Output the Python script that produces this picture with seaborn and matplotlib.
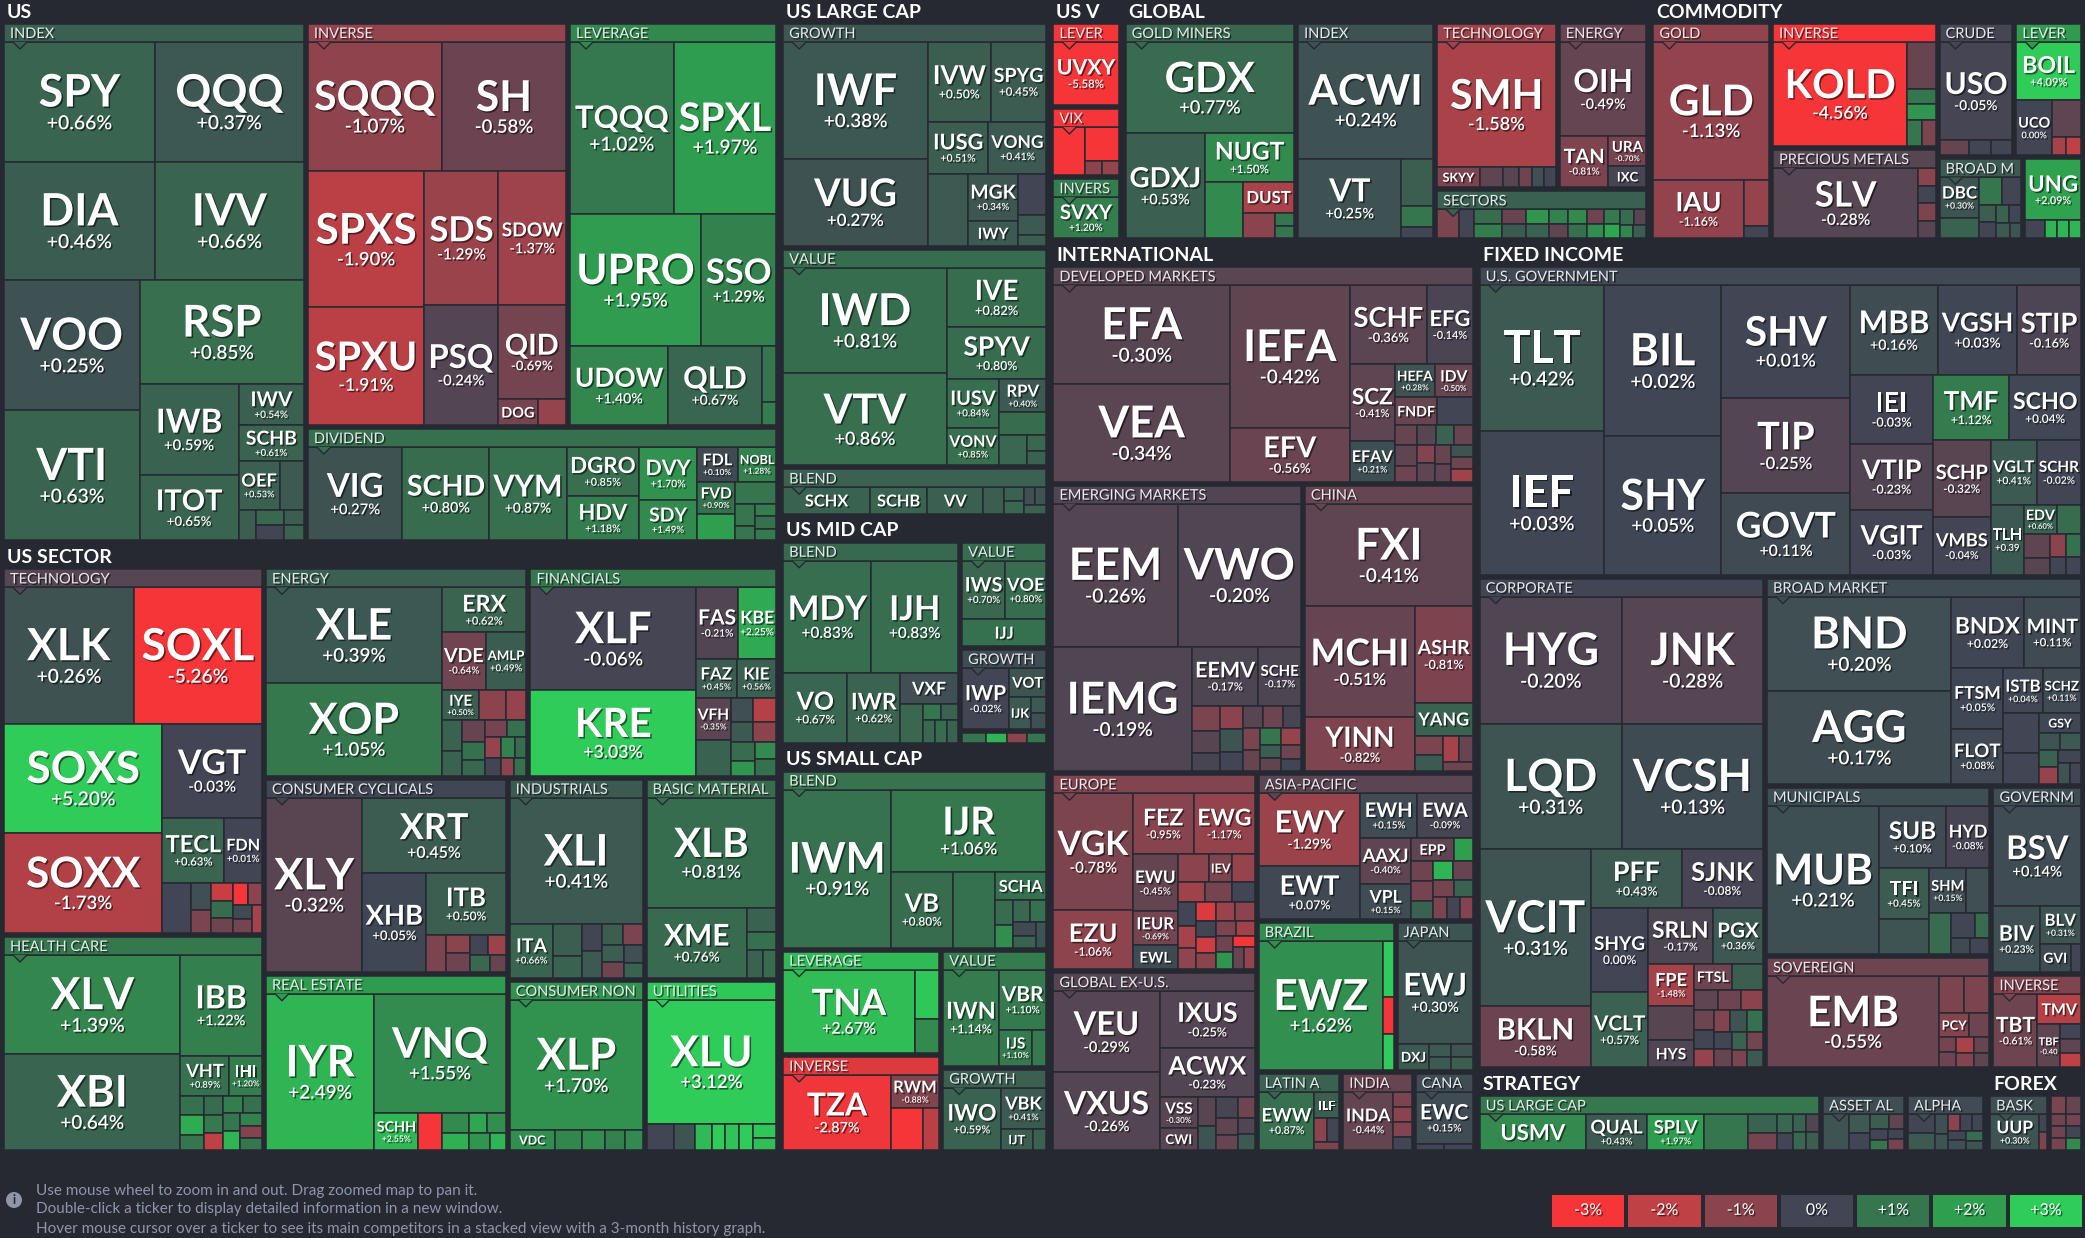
import numpy as np
import matplotlib
matplotlib.use("Agg")
import matplotlib.pyplot as plt
import matplotlib.patheffects as pe
from matplotlib.patches import Rectangle, Polygon, Circle
from matplotlib.colors import ListedColormap, to_rgb
import seaborn as sns

# colour scale of the map
SCALE_STEPS = [-3, -2, -1, 0, 1, 2, 3]
SCALE_COLORS = ["#f63538", "#bf4045", "#8b444e", "#414554", "#35764e", "#2f9e4f", "#30cc5a"]
SCALE_LABELS = ["-3%", "-2%", "-1%", "0%", "+1%", "+2%", "+3%"]

# (ticker, size, change %) ; "" = unlabeled small fund
us_index = [("SPY", 100, 0.66), ("QQQ", 99, 0.37), ("DIA", 99, 0.46), ("IVV", 98, 0.66), ("VOO", 98, 0.25),
            ("VTI", 98, 0.63), ("RSP", 95, 0.85), ("IWB", 50, 0.59), ("ITOT", 36, 0.65), ("IWV", 15, 0.54),
            ("SCHB", 13, 0.61), ("OEF", 11, 0.53), ("", 6.5, 0.4), ("", 3, 0.5), ("", 2.4, 0.7), ("", 2.4, 0.0),
            ("", 1.7, 0.5), ("", 1.7, 0.6)]
us_inverse = [("SQQQ", 96, -1.07), ("SH", 89, -0.58), ("SPXS", 88, -1.90), ("SPXU", 76, -1.91), ("SDS", 55, -1.29),
              ("SDOW", 50, -1.37), ("PSQ", 49, -0.24), ("QID", 36, -0.69), ("DOG", 5.7, -0.7), ("", 4, -1.2)]
us_leverage = [("TQQQ", 99, 1.02), ("SPXL", 98, 1.97), ("UPRO", 96, 1.95), ("SSO", 55, 1.29), ("UDOW", 43, 1.40),
               ("QLD", 41, 0.67), ("", 4.5, 1.0), ("", 1.8, 1.2)]
us_dividend = [("VIG", 49, 0.27), ("SCHD", 45, 0.80), ("VYM", 40, 0.87), ("DGRO", 19.6, 0.85), ("HDV", 18, 1.18),
               ("DVY", 17, 1.70), ("SDY", 13, 1.49), ("FDL", 7.8, 0.1), ("NOBL", 7.4, 1.28), ("FVD", 6.8, 0.9),
               ("", 5.7, 2.0), ("", 5, 1.0), ("", 2.4, 1.0), ("", 1.5, 1.0), ("", 1.5, 1.2), ("", 1.5, 0.9),
               ("", 1.4, 1.1)]

sec_tech = [("XLK", 98, 0.26), ("SOXL", 97, -5.26), ("SOXS", 96, 5.20), ("SOXX", 88, -1.73), ("VGT", 52, -0.03),
            ("TECL", 22.5, 0.63), ("FDN", 13.7, 0.01), ("", 8, 0.0), ("", 3, 0.2), ("", 2.5, -0.8), ("", 2.2, -2.2),
            ("", 2, 0.8), ("", 1.8, -0.6), ("", 1.8, -3.5), ("", 1.7, -1.0), ("", 1.6, 0.1), ("", 1.5, -0.7),
            ("", 1.5, -1.5)]
sec_health = [("XLV", 97, 1.39), ("XBI", 94, 0.64), ("IBB", 45.5, 1.22), ("VHT", 11, 0.89), ("IHI", 7.3, 1.2),
              ("", 2.5, 0.9), ("", 2.5, 2.3), ("", 2, 1.0), ("", 2, 0.8), ("", 2, 1.1), ("", 1.8, -2.0),
              ("", 1.8, 1.2), ("", 1.8, 0.9), ("", 1.7, 1.0), ("", 1.7, 2.5), ("", 1.6, 1.3), ("", 1.5, -0.9),
              ("", 1.5, 1.0)]
sec_energy = [("XLE", 93, 0.39), ("XOP", 91, 1.05), ("ERX", 21, 0.62), ("VDE", 14, -0.64), ("AMLP", 13, 0.49),
              ("IYE", 6.4, 0.5), ("", 4.5, -1.0), ("", 3.5, -1.2), ("", 3.5, 0.6), ("", 2.8, 0.6), ("", 2.8, -0.5),
              ("", 2.3, 0.9), ("", 2, 0.7), ("", 2, -0.7), ("", 1.8, 0.9), ("", 1.8, -1.2), ("", 1.6, 0.0),
              ("", 1.6, 1.3), ("", 1.4, 0.8), ("", 1.3, -1.0), ("", 1.2, 0.9)]
sec_fin = [("XLF", 94, -0.06), ("KRE", 79, 3.03), ("FAS", 16.7, -0.21), ("KBE", 15, 2.25), ("FAZ", 9, 0.45),
           ("KIE", 8.7, 0.56), ("VFH", 8, -0.35), ("", 7, 0.6), ("", 3, 0.2), ("", 3, -1.8), ("", 2.5, 0.4),
           ("", 2.5, -1.0), ("", 2.5, 0.8), ("", 2, 1.8), ("", 2, 1.5), ("", 2, 0.9)]
sec_cyc = [("XLY", 93, -0.32), ("XRT", 60, 0.45), ("XHB", 35, 0.05), ("ITB", 27, 0.50), ("", 4, -0.8),
           ("", 2.5, -1.0), ("", 2.5, -0.6), ("", 2, 0.0), ("", 2, -1.3), ("", 1.8, 0.7), ("", 1.5, -0.5)]
sec_realestate = [("IYR", 94, 2.49), ("VNQ", 87, 1.55), ("SCHH", 9, 2.55), ("", 5, -3.0), ("", 3, 1.5),
                  ("", 2.5, 2.4), ("", 2, 2.2), ("", 2, 1.6), ("", 2, 1.8), ("", 1.5, 2.5)]
sec_ind = [("XLI", 93, 0.41), ("ITA", 13, 0.66), ("", 5, 0.5), ("", 3.5, 0.6), ("", 3, 0.0), ("", 3, 0.4),
           ("", 2.5, 0.5), ("", 2.3, -0.8), ("", 2, 0.5), ("", 2, -0.6), ("", 1.8, 0.2), ("", 1.6, 0.6)]
sec_basic = [("XLB", 79, 0.81), ("XME", 39, 0.76), ("", 4, 0.6), ("", 3, 0.9), ("", 2.5, 0.6), ("", 2, 0.8)]
sec_noncyc = [("XLP", 96, 1.70), ("VDC", 5, 1.6), ("", 3, 1.4), ("", 2.5, 1.6), ("", 2.2, 1.3), ("", 2, 1.5)]
sec_util = [("XLU", 89, 3.12), ("", 4, 0.0), ("", 3, 0.3), ("", 2.5, 2.6), ("", 2, 3.0), ("", 2, 2.8),
            ("", 2, 3.0), ("", 1.8, 2.9), ("", 1.6, 2.7)]

lc_growth = [("IWF", 94, 0.38), ("VUG", 70, 0.27), ("IVW", 28, 0.50), ("SPYG", 24.6, 0.45), ("IUSG", 17.6, 0.51),
             ("VONG", 16.8, 0.41), ("", 16, 0.4), ("MGK", 13.3, 0.34), ("IWY", 7, 0.4), ("", 6.5, 0.0),
             ("", 3, 0.4), ("", 1.7, 0.5)]
lc_value = [("IWD", 96, 0.81), ("VTV", 84, 0.86), ("IVE", 33, 0.82), ("SPYV", 29, 0.80), ("IUSV", 14, 0.84),
            ("VONV", 11, 0.85), ("RPV", 8.6, 0.4), ("", 6.2, 0.8), ("", 4.6, 0.7), ("", 1.7, 0.7), ("", 1.6, 0.6)]
lc_blend = [("SCHX", 12.8, 0.6), ("SCHB", 8.4, 0.61), ("VV", 8.2, 0.55), ("", 3, 0.5), ("", 1.5, 0.6),
            ("", 1.5, 0.7), ("", 1.1, 0.2), ("", 1.1, 0.3), ("", 1.1, 0.6)]

mc_blend = [("MDY", 55, 0.83), ("IJH", 54, 0.83), ("VO", 25, 0.67), ("IWR", 20.5, 0.62), ("VXF", 10, 0.2),
            ("", 5, 0.7), ("", 1.6, 1.0), ("", 1.6, 0.6), ("", 1.5, 0.7), ("", 1.4, 0.8), ("", 1.4, 0.6)]
mc_value = [("IWS", 14, 0.7), ("VOE", 13.5, 0.8), ("IJJ", 12.5, 0.9)]
mc_growth = [("IWP", 16, -0.02), ("VOT", 6, 0.3), ("IJK", 4, 0.4), ("", 1.4, 0.4), ("", 1.4, 0.2)]
mc_other = [("", 1.2, 1.0), ("", 1.1, 2.5), ("", 1.0, -1.0), ("", 1.0, 1.0)]

sc_blend = [("IWM", 95, 0.91), ("IJR", 71, 1.06), ("VB", 26, 0.80), ("", 18, 0.9), ("SCHA", 8.2, 0.9),
            ("", 2.5, 0.8), ("", 2.2, 1.6), ("", 2, 0.7), ("", 2, 0.9), ("", 1.8, 0.1), ("", 1.5, 0.6),
            ("", 1.5, 0.3)]
sc_leverage = [("TNA", 61, 2.67), ("", 6.7, 2.9), ("", 4.7, 1.5)]
sc_inverse = [("TZA", 45, -2.87), ("RWM", 9, -0.88), ("", 7.4, -3.0), ("", 3.8, -1.9)]
sc_value = [("IWN", 29.6, 1.14), ("VBR", 16, 1.10), ("IJS", 6.7, 1.1), ("", 2.8, 1.1)]
sc_growth = [("IWO", 20, 0.59), ("VBK", 10.6, 0.41), ("IJT", 3.7, 0.5), ("", 1.6, 0.6)]

vol_lever = [("UVXY", 23, -5.58)]
vol_vix = [("", 8.4, -3.5), ("", 6.5, -3.2), ("", 1.4, -1.0), ("", 1.3, -1.2)]
vol_inverse = [("SVXY", 15, 1.2)]

gl_miners = [("GDX", 86, 0.77), ("GDXJ", 46.6, 0.53), ("NUGT", 24, 1.50), ("", 12, 1.5), ("DUST", 8.8, -1.6),
             ("", 4.6, -1.0), ("", 1.4, 1.0), ("", 1.3, 1.0)]
gl_index = [("ACWI", 88, 0.24), ("VT", 46, 0.25), ("", 8.4, 0.5), ("", 3.8, 1.0), ("", 1.9, 0.0)]
gl_tech = [("SMH", 83, -1.58), ("SKYY", 4.8, -0.8), ("", 2.6, -0.4), ("", 1.8, -0.3), ("", 1.5, -0.6),
           ("", 1.4, 0.2), ("", 1.3, 0.0)]
gl_energy = [("OIH", 45.5, -0.49), ("TAN", 14, -0.81), ("URA", 6.4, -0.7), ("IXC", 4.5, -0.1)]
gl_sectors = [("", 3.5, -0.8), ("", 2.5, 0.0), ("", 2.2, 0.8), ("", 2.2, 1.2), ("", 2, -0.5), ("", 2, 0.4),
              ("", 1.8, 1.8), ("", 1.8, 0.6), ("", 1.6, 1.3), ("", 1.6, -0.4), ("", 1.5, 1.5), ("", 1.5, 0.9),
              ("", 1.4, -0.6), ("", 1.4, 1.6), ("", 1.3, 1.1), ("", 1.2, 2.2), ("", 1.2, 0.8), ("", 1.1, -0.3),
              ("", 1, 1.4), ("", 1, 0.5)]

cm_gold = [("GLD", 89, -1.13), ("IAU", 29.5, -1.16), ("", 6.5, -1.2), ("", 1.8, 0.0)]
cm_inverse = [("KOLD", 78, -4.56), ("", 7.5, -0.5), ("", 2.4, 1.0), ("", 2.4, 1.8), ("", 2.2, 1.0), ("", 2, -0.8)]
cm_precious = [("SLV", 57, -0.28), ("", 1.7, -1.0), ("", 1.7, 0.0), ("", 1.7, -0.8), ("", 1.7, -0.3)]
cm_crude = [("USO", 40, -0.05), ("", 2.5, -0.5), ("", 1.8, 0.0), ("", 1.8, 0.0)]
cm_lever = [("BOIL", 21, 4.09), ("UCO", 11, 0.00), ("", 6, -0.4), ("", 1.5, -1.5), ("", 1.5, -2.0)]
cm_broad = [("DBC", 9, 0.3), ("", 4.6, 0.6), ("", 3.5, 1.0), ("", 3, 0.0), ("", 1.5, 0.5), ("", 1.5, 0.0),
            ("", 1.3, 0.6), ("", 1.2, 0.0), ("", 1.2, 0.4), ("", 1.0, 0.3)]
cm_gas = [("UNG", 19, 2.09), ("", 2, 0.0), ("", 1.2, 2.5), ("", 1.2, 2.5), ("", 1.2, 2.5)]

in_developed = [("EFA", 97, -0.30), ("VEA", 96, -0.34), ("IEFA", 95, -0.42), ("EFV", 36, -0.56), ("SCHF", 34, -0.36),
                ("EFG", 20, -0.14), ("SCZ", 19.5, -0.41), ("EFAV", 10.2, 0.21), ("HEFA", 7.4, 0.28),
                ("IDV", 7, -0.5), ("FNDF", 6.6, -0.5), ("", 5.6, 0.0), ("", 2.5, -0.5), ("", 2.5, -0.4),
                ("", 2, -0.6), ("", 2, -0.3), ("", 2, 0.6), ("", 2, -0.5), ("", 1.8, -0.9), ("", 1.8, -0.4),
                ("", 1.7, -0.5), ("", 1.6, -0.4), ("", 1.5, 0.3), ("", 1.5, -0.6), ("", 1.5, -1.4)]
in_emerging = [("EEM", 99, -0.26), ("VWO", 98, -0.20), ("IEMG", 96, -0.19), ("EEMV", 22, -0.17), ("SCHE", 14, -0.17),
               ("", 4, -0.8), ("", 3.5, -0.3), ("", 3, -0.1), ("", 3, -1.0), ("", 2.8, 0.3), ("", 2.5, 0.0),
               ("", 2.5, -0.3), ("", 2.5, -0.6), ("", 2.2, -0.1), ("", 2, -0.8), ("", 2, -0.5), ("", 2, 1.0),
               ("", 1.8, -1.2), ("", 1.6, 0.5), ("", 1.5, -0.4), ("", 1.5, -0.6), ("", 1.4, 0.0)]
in_china = [("FXI", 96, -0.41), ("MCHI", 68, -0.51), ("YINN", 33, -0.82), ("ASHR", 31, -0.81), ("YANG", 10.6, 0.6),
            ("", 3, -0.8), ("", 2.5, 0.4), ("", 2.5, -1.5), ("", 2, -0.5), ("", 1.5, -0.6)]
in_europe = [("VGK", 51.6, -0.78), ("EZU", 26, -1.06), ("FEZ", 20.7, -0.95), ("EWG", 20.5, -1.17),
             ("EWU", 14.5, -0.45), ("IEUR", 8.6, -0.69), ("EWL", 6, 0.1), ("", 5, -1.0), ("IEV", 3.6, -0.8),
             ("", 3.6, -1.2), ("", 3, -1.4), ("", 3, -0.7), ("", 2.5, 0.0), ("", 2.5, 0.0), ("", 2.2, -1.5),
             ("", 2.2, -1.1), ("", 2, -2.5), ("", 2, -1.3), ("", 2, -1.0), ("", 1.8, 0.0), ("", 1.8, -2.3),
             ("", 1.8, -1.0), ("", 1.6, -0.8), ("", 1.6, -1.4), ("", 1.5, -0.6), ("", 1.5, 1.8), ("", 1.4, -3.5),
             ("", 1.4, -0.5), ("", 1.3, -1.2)]
in_globalex = [("VEU", 48, -0.29), ("VXUS", 46, -0.26), ("IXUS", 30, -0.25), ("ACWX", 26, -0.23), ("VSS", 6.7, -0.3),
               ("CWI", 4.6, -0.3), ("", 3, -0.3), ("", 2.5, 0.3), ("", 2.5, -0.1), ("", 2, -0.6), ("", 2, -0.4),
               ("", 1.8, -0.5), ("", 1.5, -0.2), ("", 1.5, 0.4)]
in_asia = [("EWY", 41, -1.29), ("EWT", 30, 0.07), ("EWH", 14.2, 0.15), ("EWA", 13.7, -0.09), ("AAXJ", 13.2, -0.40),
           ("VPL", 9.9, 0.15), ("EPP", 5.6, -0.4), ("", 2.5, 2.0), ("", 2.5, -0.6), ("", 2.5, -0.7), ("", 2.2, 0.6),
           ("", 2, 2.5), ("", 2, -0.5), ("", 2, -0.7), ("", 1.8, 0.6), ("", 1.7, -0.8), ("", 1.6, 0.0),
           ("", 1.5, -0.9)]
in_brazil = [("EWZ", 89, 1.62), ("", 3.4, 3.5), ("", 2.2, -3.2), ("", 2.2, 3.2)]
in_japan = [("EWJ", 43, 0.30), ("DXJ", 4.6, 0.4), ("", 1.6, 0.4), ("", 1.6, 0.4), ("", 1.6, 0.3), ("", 1.5, 0.5)]
in_latam = [("EWW", 18, 0.87), ("ILF", 3.7, 0.5), ("", 1.7, -1.0), ("", 1.6, 0.0), ("", 1.1, -0.8)]
in_india = [("INDA", 16, -0.44), ("", 1.6, -0.8), ("", 1.6, -1.0), ("", 1.5, -0.9), ("", 1.4, 0.0)]
in_canada = [("EWC", 16.5, 0.15), ("", 1.0, 0.0), ("", 1.0, 0.0)]

fi_gov = [("TLT", 101, 0.42), ("IEF", 100, 0.03), ("BIL", 99, 0.02), ("SHY", 91, 0.05), ("SHV", 81, 0.01),
          ("TIP", 69, -0.25), ("GOVT", 58.6, 0.11), ("MBB", 44, 0.16), ("VGSH", 40, 0.03), ("STIP", 32, -0.16),
          ("IEI", 31.6, -0.03), ("VTIP", 30.5, -0.23), ("VGIT", 30, -0.03), ("TMF", 27.8, 1.12), ("SCHO", 26, 0.04),
          ("SCHP", 25, -0.32), ("VMBS", 18.5, -0.04), ("VGLT", 16.5, 0.41), ("SCHR", 16, -0.02), ("TLH", 13, 0.39),
          ("EDV", 5.4, 0.6), ("", 4, 0.8), ("", 3.5, -0.4), ("", 2.5, -0.3), ("", 2, -1.0), ("", 2, 0.9),
          ("", 1.5, 0.0), ("", 1.5, 0.0)]
fi_corp = [("HYG", 101, -0.20), ("JNK", 100, -0.28), ("LQD", 99.5, 0.31), ("VCSH", 99, 0.13), ("VCIT", 98, 0.31),
           ("BKLN", 38, -0.58), ("PFF", 30, 0.43), ("SJNK", 27, -0.08), ("SHYG", 26.7, 0.00), ("VCLT", 24, 0.57),
           ("SRLN", 20, -0.17), ("PGX", 15.5, 0.36), ("FPE", 10.9, -1.48), ("", 8.7, -0.3), ("HYS", 7, -0.2),
           ("FTSL", 5.5, -0.6), ("", 4.6, 0.5), ("", 2.7, -0.4), ("", 2.5, -0.6), ("", 2.5, -1.0), ("", 2.2, -0.6),
           ("", 2.2, 0.0), ("", 2, -1.2), ("", 2, -0.9), ("", 2, 0.3), ("", 2, 0.9), ("", 1.8, 0.0),
           ("", 1.8, -0.5), ("", 1.6, 0.6), ("", 1.6, -0.7), ("", 1.5, -0.8), ("", 1.5, 0.4)]
fi_broad = [("BND", 97, 0.20), ("AGG", 96, 0.17), ("BNDX", 29, 0.02), ("MINT", 23, 0.11), ("FTSM", 17.5, 0.05),
            ("FLOT", 16, 0.08), ("ISTB", 9.9, 0.04), ("SCHZ", 9.6, 0.11), ("", 8, 0.0), ("", 6.2, 0.0),
            ("GSY", 4.6, 0.05), ("", 2, 0.3), ("", 2, 0.4), ("", 1.8, 0.6), ("", 1.8, -1.2), ("", 1.6, 0.0),
            ("", 1.4, 0.3), ("", 1.3, 0.0)]
fi_muni = [("MUB", 92.6, 0.21), ("SUB", 23.5, 0.10), ("HYD", 15, -0.08), ("TFI", 14.5, 0.45), ("", 9.9, 0.3),
           ("SHM", 9.3, 0.15), ("", 5.8, 0.2), ("", 5, 0.8), ("", 3.4, 0.0), ("", 2.1, 0.8), ("", 1.7, 0.1),
           ("", 1.7, 0.0)]
fi_sovereign = [("EMB", 87.5, -0.55), ("", 5.3, -0.8), ("", 5.2, -0.8), ("PCY", 4, -0.9), ("", 2.7, -0.6),
                ("", 1.5, -0.7), ("", 1.5, -0.6), ("", 1.5, -1.6), ("", 1.4, -0.9), ("", 1.4, -0.5), ("", 1.3, -0.4)]
fi_govern = [("BSV", 49, 0.14), ("BIV", 17, 0.23), ("BLV", 8.7, 0.31), ("GVI", 5, 0.1), ("", 1.6, 0.0)]
fi_inverse = [("TBT", 18, -0.61), ("TMV", 7.4, -1.8), ("TBF", 5.4, -0.4), ("", 1.7, 0.0), ("", 1.7, -0.4),
              ("", 1.7, -2.0)]

st_largecap = [("USMV", 21.5, 1.5), ("QUAL", 12.4, 0.43), ("SPLV", 11.5, 1.97), ("", 9, 1.0), ("", 3, 0.6),
               ("", 2.7, -0.7), ("", 1.8, 0.7), ("", 1.6, 0.0), ("", 1.3, 0.6), ("", 1.3, -0.2), ("", 1.3, 0.7),
               ("", 1.3, 0.5)]
st_asset = [("", 5.2, 0.3), ("", 2.2, 0.4), ("", 2, 0.0), ("", 1.6, 0.5), ("", 1.2, -0.4), ("", 1.2, 0.0),
            ("", 1.0, 1.0), ("", 1.0, 0.0), ("", 1.0, -0.7)]
st_alpha = [("", 2.8, 0.0), ("", 2.6, 0.4), ("", 1.4, 0.2), ("", 1.2, 0.3), ("", 1.1, 0.0), ("", 1.2, -1.0),
            ("", 1.0, 0.0), ("", 1.0, 0.0), ("", 1.0, 0.2), ("", 1.0, 0.8), ("", 0.9, 0.3)]
fx_basket = [("UUP", 10, 0.3), ("", 0.8, 0.0), ("", 0.8, -0.8)]
fx_other = [("", 1.5, -0.8), ("", 1.0, -0.6), ("", 1.0, -0.7), ("", 1.5, -0.5), ("", 1.0, -0.6), ("", 1.0, -0.7),
            ("", 1.0, 0.0), ("", 1.0, 1.5)]

GROUPS = {
    "US": [("INDEX", us_index), ("INVERSE", us_inverse), ("LEVERAGE", us_leverage), ("DIVIDEND", us_dividend)],
    "US SECTOR": [("TECHNOLOGY", sec_tech), ("HEALTH CARE", sec_health), ("ENERGY", sec_energy),
                  ("FINANCIALS", sec_fin), ("CONSUMER CYCLICALS", sec_cyc), ("REAL ESTATE", sec_realestate),
                  ("INDUSTRIALS", sec_ind), ("BASIC MATERIALS", sec_basic),
                  ("CONSUMER NON-CYCLICALS", sec_noncyc), ("UTILITIES", sec_util)],
    "US LARGE CAP": [("GROWTH", lc_growth), ("VALUE", lc_value), ("BLEND", lc_blend)],
    "US MID CAP": [("BLEND", mc_blend), ("VALUE", mc_value), ("GROWTH", mc_growth), ("", mc_other)],
    "US SMALL CAP": [("BLEND", sc_blend), ("LEVERAGE", sc_leverage), ("INVERSE", sc_inverse),
                     ("VALUE", sc_value), ("GROWTH", sc_growth)],
    "US VOLATILITY": [("LEVERAGE", vol_lever), ("VIX", vol_vix), ("INVERSE", vol_inverse)],
    "GLOBAL": [("GOLD MINERS", gl_miners), ("INDEX", gl_index), ("TECHNOLOGY", gl_tech),
               ("ENERGY", gl_energy), ("SECTORS", gl_sectors)],
    "COMMODITY": [("GOLD", cm_gold), ("INVERSE", cm_inverse), ("PRECIOUS METALS", cm_precious),
                  ("CRUDE OIL", cm_crude), ("LEVERAGE", cm_lever), ("BROAD MARKET", cm_broad), ("", cm_gas)],
    "INTERNATIONAL": [("DEVELOPED MARKETS", in_developed), ("EMERGING MARKETS", in_emerging), ("CHINA", in_china),
                      ("EUROPE", in_europe), ("GLOBAL EX-U.S.", in_globalex), ("ASIA-PACIFIC", in_asia),
                      ("BRAZIL", in_brazil), ("JAPAN", in_japan), ("LATIN AMERICA", in_latam),
                      ("INDIA", in_india), ("CANADA", in_canada)],
    "FIXED INCOME": [("U.S. GOVERNMENT", fi_gov), ("CORPORATE", fi_corp), ("BROAD MARKET", fi_broad),
                     ("MUNICIPALS", fi_muni), ("SOVEREIGN", fi_sovereign), ("GOVERNMENT", fi_govern),
                     ("INVERSE", fi_inverse)],
    "STRATEGY": [("US LARGE CAP", st_largecap), ("ASSET ALLOCATION", st_asset), ("ALPHA", st_alpha)],
    "FOREX": [("BASKET", fx_basket), ("", fx_other)],
}

# how the top-level blocks are stacked (sizes come from the data)
LAYOUT = ("cols", [("rows", ["US", "US SECTOR"]),
                   ("rows", ["US LARGE CAP", "US MID CAP", "US SMALL CAP"]),
                   ("rows", [("cols", ["US VOLATILITY", "GLOBAL", "COMMODITY"]),
                             ("cols", ["INTERNATIONAL",
                                       ("rows", ["FIXED INCOME", ("cols", ["STRATEGY", "FOREX"])])])])])

INFO_LINES = ["Use mouse wheel to zoom in and out. Drag zoomed map to pan it.",
              "Double-click a ticker to display detailed information in a new window.",
              "Hover mouse cursor over a ticker to see its main competitors in a stacked view with a 3-month history graph."]

sns.set_theme(style="dark")
plt.rcParams["font.family"] = ["Lato", "DejaVu Sans"]

BG = "#262931"
W, H = 2085, 1238
MAP = (2, 0, 2081, 1152)
TITLE_H = 22
HEAD_H = 18
GAP = 3
PAD = 2
RGB = np.array([to_rgb(c) for c in SCALE_COLORS])


def change_color(c):
    c = float(np.clip(c, -3, 3))
    return tuple(np.interp(c, SCALE_STEPS, RGB[:, i]) for i in range(3))


def squarify(values, x, y, w, h):
    order = sorted(range(len(values)), key=lambda i: -values[i])
    tot = float(sum(values))
    vals = [values[i] * w * h / tot for i in order]
    rects = [None] * len(values)

    def worst(row, side):
        s = sum(row)
        return max(max(side * side * r / (s * s), s * s / (side * side * r)) for r in row)

    i = 0
    while i < len(vals):
        side = max(min(w, h), 1e-6)
        row = [vals[i]]
        j = i + 1
        while j < len(vals) and worst(row + [vals[j]], side) <= worst(row, side):
            row.append(vals[j])
            j += 1
        s = sum(row)
        if w >= h:
            cw = s / max(h, 1e-6)
            yy = y
            for k, r in enumerate(row):
                rh = r / max(cw, 1e-6)
                rects[order[i + k]] = (x, yy, cw, rh)
                yy += rh
            x += cw
            w -= cw
        else:
            rh = s / max(w, 1e-6)
            xx = x
            for k, r in enumerate(row):
                rw = r / max(rh, 1e-6)
                rects[order[i + k]] = (xx, y, rw, rh)
                xx += rw
            y += rh
            h -= rh
        i = j
    return rects


extra = {}


def sub_w(g, s, leaves):
    return sum(v for _, v, _ in leaves) + extra.get((g, s), 0.0)


def grp_w(g):
    return sum(sub_w(g, s, l) for s, l in GROUPS[g]) + extra.get(g, 0.0)


def node_w(n):
    return grp_w(n) if isinstance(n, str) else sum(node_w(k) for k in n[1])


def place(n, x, y, w, h, out):
    if isinstance(n, str):
        out[n] = (x, y, w, h)
        return
    kind, kids = n
    ws = [node_w(k) for k in kids]
    tot = sum(ws)
    if kind == "cols":
        avail = w - GAP * (len(kids) - 1)
        for k, wt in zip(kids, ws):
            kw = avail * wt / tot
            place(k, x, y, kw, h, out)
            x += kw + GAP
    else:
        avail = h - GAP * (len(kids) - 1)
        for k, wt in zip(kids, ws):
            kh = avail * wt / tot
            place(k, x, y, w, kh, out)
            y += kh + GAP


def compute_layout():
    grects, subrects, leafrects = {}, {}, {}
    place(LAYOUT, *MAP, grects)
    for g, (gx, gy, gw, gh) in grects.items():
        subs = GROUPS[g]
        sr = squarify([sub_w(g, s, l) for s, l in subs], gx, gy + TITLE_H, gw, gh - TITLE_H)
        for (s, l), r in zip(subs, sr):
            subrects[(g, s)] = r
            sx, sy, sw, sh = r
            hh = HEAD_H if s else 0
            inner = (sx + PAD, sy + PAD + hh, max(sw - 2 * PAD, 1), max(sh - 2 * PAD - hh, 1))
            leafrects[(g, s)] = (inner, squarify([v for _, v, _ in l], *inner))
    return grects, subrects, leafrects


# header bars take room too: iterate so that leaf areas stay proportional to size
total_leaf = sum(v for g in GROUPS for _, l in GROUPS[g] for _, v, _ in l)
for it in range(14):
    grects, subrects, leafrects = compute_layout()
    inner_area = sum(r[0][2] * r[0][3] for r in leafrects.values())
    S = inner_area / total_leaf
    damp = 1.0 if it == 0 else 0.5
    for g, (gx, gy, gw, gh) in grects.items():
        extra[g] = (1 - damp) * extra.get(g, 0) + damp * gw * TITLE_H / S
        for s, l in GROUPS[g]:
            sx, sy, sw, sh = subrects[(g, s)]
            ix, iy, iw, ih = leafrects[(g, s)][0]
            extra[(g, s)] = (1 - damp) * extra.get((g, s), 0) + damp * (sw * sh - iw * ih) / S
grects, subrects, leafrects = compute_layout()

fig = plt.figure(figsize=(W / 100, H / 100), dpi=100)
fig.patch.set_facecolor(BG)
ax = fig.add_axes([0, 0, 1, 1])
ax.set_xlim(0, W)
ax.set_ylim(H, 0)
ax.axis("off")
ax.set_facecolor(BG)
renderer = fig.canvas.get_renderer()
SHADOW = [pe.SimplePatchShadow(offset=(1.1, -1.1), shadow_rgbFace="#000000", alpha=0.55), pe.Normal()]

_wcache = {}


def text_width(s, size, weight):
    key = (s, weight)
    if key not in _wcache:
        t = ax.text(0, 0, s, fontsize=10, fontweight=weight)
        _wcache[key] = t.get_window_extent(renderer).width / 10.0
        t.remove()
    return _wcache[key] * size


def truncate(s, size, weight, maxw):
    while s and text_width(s, size, weight) > maxw:
        s = s[:-1].rstrip()
    return s


def draw_label(tk, c, x, y, w, h):
    area = w * h
    em_t = min(5 + 0.297 * np.sqrt(area), 0.62 * h)
    tw = text_width(tk, em_t * 0.72, "bold")
    if tw > 0.9 * w:
        em_t *= 0.9 * w / tw
    if em_t < 9:
        return
    em_v = min(4 + 0.115 * np.sqrt(area), em_t * 0.75)
    val = None
    if em_v >= 7.5:
        txt = "0.00%" if round(c, 2) == 0 else f"{c:+.2f}%"
        for t in (txt, txt[:-1]):
            if text_width(t, em_v * 0.72, "semibold") <= 0.92 * w:
                val = t
                break
    cap_t, cap_v, gap = 0.72 * em_t, 0.72 * em_v, 0.45 * em_v
    if val and h >= cap_t + gap + cap_v + 10:
        hb = cap_t + gap + cap_v
    else:
        val, hb = None, cap_t
    top = y + h / 2 - hb / 2
    ax.text(x + w / 2, top + cap_t, tk, ha="center", va="baseline", fontsize=em_t * 0.72,
            fontweight="bold", color="white", path_effects=SHADOW, zorder=5)
    if val:
        ax.text(x + w / 2, top + hb, val, ha="center", va="baseline", fontsize=em_v * 0.72,
                fontweight="semibold", color="white", path_effects=SHADOW, zorder=5)


for g, (gx, gy, gw, gh) in grects.items():
    title = truncate(g, 14, "bold", gw - 20)
    ax.text(gx + 5, gy + 17.5, title, fontsize=14, fontweight="bold", color="white",
            va="baseline", ha="left", zorder=5)
    for s, leaves in GROUPS[g]:
        inner, rects = leafrects[(g, s)]
        for (tk, v, c), (x, y, w, h) in zip(leaves, rects):
            ax.add_patch(Rectangle((x, y), w, h, facecolor=change_color(c), edgecolor=BG,
                                   linewidth=1.1, zorder=1))
            if tk:
                draw_label(tk, c, x, y, w, h)
        if s:
            sx, sy, sw, sh = subrects[(g, s)]
            tot = sum(v for _, v, _ in leaves)
            avg = sum(v * c for _, v, c in leaves) / tot
            hc = change_color(avg)
            hx, hy = sx + PAD, sy + PAD
            ax.add_patch(Rectangle((hx, hy), sw - 2 * PAD, HEAD_H, facecolor=hc, edgecolor=BG,
                                   linewidth=1.1, zorder=2))
            name = truncate(s, 10.5, "normal", sw - 17)
            ax.text(hx + 6, hy + HEAD_H - 4, name, fontsize=10.5, color="#e6e8ec", va="baseline",
                    ha="left", path_effects=SHADOW, zorder=5)
            if sw > 40:
                by = hy + HEAD_H
                ax.add_patch(Polygon([(hx + 9, by), (hx + 23, by), (hx + 16, by + 7)], closed=True,
                                     facecolor=hc, edgecolor="none", zorder=3))
                ax.plot([hx + 9, hx + 16, hx + 23], [by, by + 7, by], color=BG, lw=1.0, zorder=3)

# footer: help text
ax.add_patch(Circle((14, 1200), 8, facecolor="#8e96a8", edgecolor="none", zorder=5))
ax.text(14, 1200.5, "i", fontsize=9, fontweight="bold", color=BG, ha="center", va="center", zorder=6)
for yy, line in zip([1190.5, 1209.5, 1229], INFO_LINES):
    ax.text(36, yy, line, fontsize=11, color="#8e96a8", ha="left", va="center", zorder=5)

# colour legend as a seaborn heatmap
lax = fig.add_axes([1550 / W, 1 - 1229 / H, 534 / W, 36.4 / H])
sns.heatmap(np.array([SCALE_STEPS]), ax=lax, cmap=ListedColormap(SCALE_COLORS), vmin=-3.5, vmax=3.5,
            cbar=False, annot=np.array([SCALE_LABELS]), fmt="", linewidths=1.5, linecolor=BG,
            xticklabels=False, yticklabels=False,
            annot_kws={"fontsize": 11.5, "color": "white"})
for t in lax.texts:
    t.set_path_effects(SHADOW)
lax.set_facecolor(BG)

fig.savefig("out.png", dpi=100, facecolor=BG)
